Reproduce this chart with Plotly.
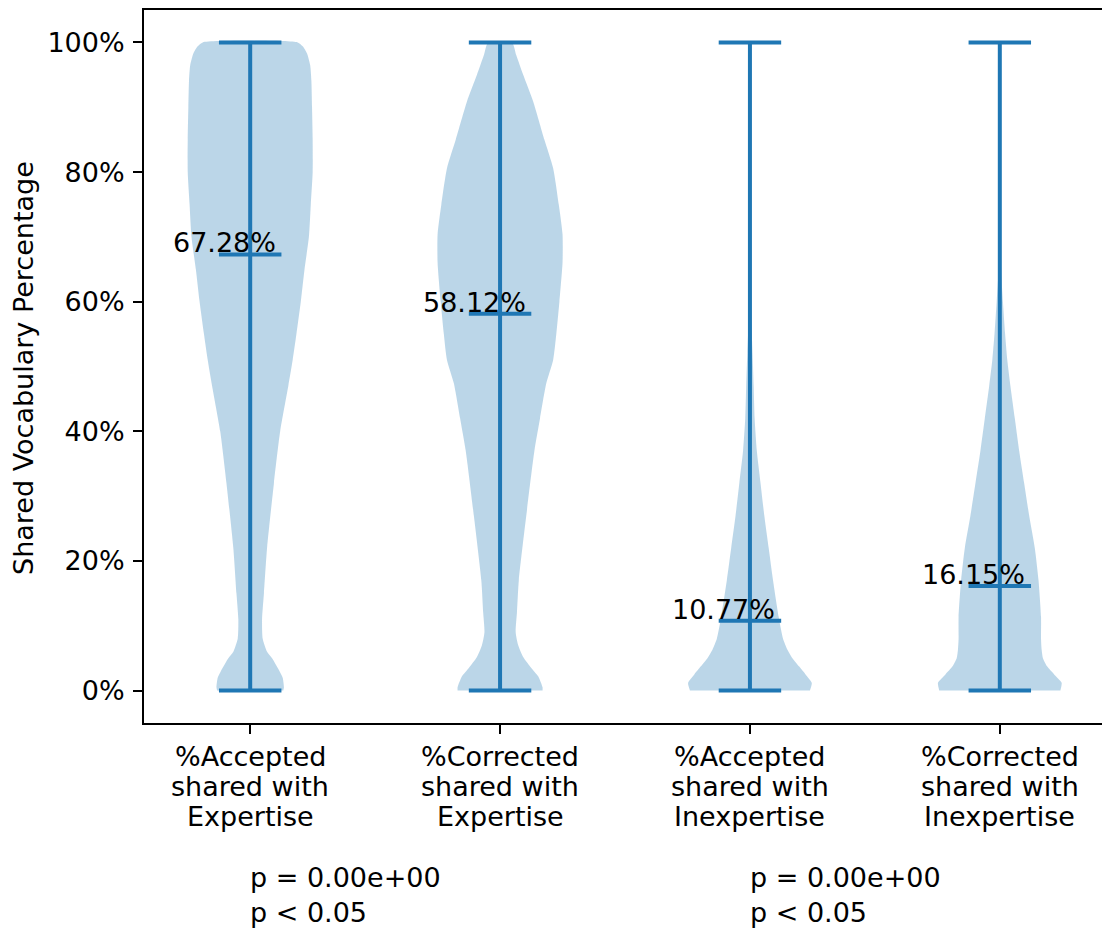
import plotly.graph_objects as go

# ---------------- data ----------------
tick_labels = [
    ["%Accepted", "shared with", "Expertise"],
    ["%Corrected", "shared with", "Expertise"],
    ["%Accepted", "shared with", "Inexpertise"],
    ["%Corrected", "shared with", "Inexpertise"],
]
positions = [1, 2, 3, 4]
medians = [67.28, 58.12, 10.77, 16.15]
mins = [0, 0, 0, 0]
maxs = [100, 100, 100, 100]

# violin outlines: level (%) and relative density (1 = widest)
v1_y = [0, 0.5, 2, 3, 5, 6, 8, 11, 15, 22, 32, 40, 47, 51, 55, 60, 65, 70, 75, 80, 85, 90, 94, 96.5, 98.3, 99.4, 100]
v1_w = [0.53, 0.54, 0.52, 0.47, 0.35, 0.27, 0.2, 0.19, 0.22, 0.27, 0.38, 0.48, 0.61, 0.68, 0.74, 0.81, 0.87, 0.94, 0.97, 1.0, 1.0, 0.99, 0.98, 0.96, 0.91, 0.84, 0.76]

v2_y = [0, 0.5, 2.2, 3.5, 5.2, 7, 9, 12, 17, 27, 37, 42, 47.4, 51, 55, 60, 66, 70.4, 75, 80.6, 85, 90.9, 95, 98, 100]
v2_w = [0.68, 0.68, 0.61, 0.50, 0.37, 0.29, 0.25, 0.27, 0.30, 0.42, 0.55, 0.64, 0.74, 0.85, 0.90, 0.95, 1.0, 1.0, 0.94, 0.85, 0.71, 0.53, 0.37, 0.26, 0.19]

v3_y = [0, 1.2, 2.5, 3.7, 5, 6.3, 8, 11.4, 17, 22, 27, 32, 37, 42, 47, 52, 56, 60, 70, 80, 100]
v3_w = [0.96, 0.99, 0.89, 0.79, 0.68, 0.60, 0.53, 0.46, 0.37, 0.30, 0.23, 0.17, 0.11, 0.075, 0.06, 0.042, 0.025, 0.008, 0.004, 0.003, 0.003]

v4_y = [0, 1.2, 2.5, 3.7, 5, 6.3, 8, 11.4, 17, 22, 27, 32, 37, 42, 47, 51, 55, 60, 64, 70, 80, 100]
v4_w = [0.97, 0.99, 0.87, 0.76, 0.69, 0.67, 0.66, 0.66, 0.62, 0.56, 0.47, 0.39, 0.31, 0.24, 0.17, 0.12, 0.085, 0.05, 0.025, 0.01, 0.005, 0.004]

violin_levels = [v1_y, v2_y, v3_y, v4_y]
violin_density = [v1_w, v2_w, v3_w, v4_w]

p_texts = ["p = 0.00e+00<br>p &lt; 0.05", "p = 0.00e+00<br>p &lt; 0.05"]
p_positions = [1, 3]

y_ticks = [0, 20, 40, 60, 80, 100]
y_tick_labels = ["0%", "20%", "40%", "60%", "80%", "100%"]

# ---------------- style ----------------
FONT = "DejaVu Sans"
FS = 27
BLUE = "#1f77b4"
FILL = "rgba(31,119,180,0.3)"
HALF = 0.25      # max half-width of a violin (widths=0.5)
CAP = 0.125      # half-length of cap/median lines
LINE_SHIFTS = [-33, -63, -93]   # px below the x axis for each tick-label line

fig = go.Figure()

for pos, ys, ws in zip(positions, violin_levels, violin_density):
    xr = [pos + HALF * w for w in ws]
    xl = [pos - HALF * w for w in ws]
    xs = xr + xl[::-1]
    yy = list(ys) + list(ys)[::-1]
    fig.add_trace(go.Scatter(
        x=xs, y=yy, mode="lines", fill="toself", fillcolor=FILL,
        line=dict(width=0, shape="spline", smoothing=0.6),
        hoverinfo="skip", showlegend=False))

lx, ly = [], []
for pos, lo, hi, md in zip(positions, mins, maxs, medians):
    lx += [pos, pos, None]
    ly += [lo, hi, None]
    for v in (lo, hi, md):
        lx += [pos - CAP, pos + CAP, None]
        ly += [v, v, None]
fig.add_trace(go.Scatter(x=lx, y=ly, mode="lines",
                         line=dict(color=BLUE, width=4),
                         hoverinfo="skip", showlegend=False))

annotations = []
for pos, md in zip(positions, medians):
    annotations.append(dict(
        x=pos + 0.11, y=md, xref="x", yref="y", text=f"{md:.2f}%",
        showarrow=False, xanchor="right", yanchor="bottom", yshift=-6,
        font=dict(family=FONT, size=FS, color="black")))

for pos, lines in zip(positions, tick_labels):
    for line, sh in zip(lines, LINE_SHIFTS):
        annotations.append(dict(
            x=pos, y=0, xref="x", yref="paper", text=line, showarrow=False,
            xanchor="center", yanchor="middle", yshift=sh,
            font=dict(family=FONT, size=FS, color="black")))

for pos, t in zip(p_positions, p_texts):
    annotations.append(dict(
        x=pos, y=-0.2406, xref="x", yref="paper", text=t, align="left",
        showarrow=False, xanchor="left", yanchor="middle", xshift=-2,
        font=dict(family=FONT, size=FS, color="black")))

annotations.append(dict(
    x=-0.1247, y=0.498, xref="paper", yref="paper",
    text="Shared Vocabulary Percentage", textangle=-90, showarrow=False,
    xanchor="center", yanchor="middle",
    font=dict(family=FONT, size=FS, color="black")))

fig.update_layout(
    width=1102, height=920,
    margin=dict(l=136, r=4, t=0, b=205, pad=0),
    paper_bgcolor="white", plot_bgcolor="white",
    font=dict(family=FONT, size=FS, color="black"),
    annotations=annotations,
    showlegend=False,
)
fig.update_xaxes(
    range=[0.575, 4.425], tickmode="array", tickvals=positions,
    ticktext=["" for _ in positions],
    showgrid=False, zeroline=False, showline=True, linecolor="black", linewidth=2,
    mirror=True, ticks="outside", ticklen=9, tickwidth=2, tickcolor="black",
)
fig.update_yaxes(
    range=[-5, 105], tickmode="array", tickvals=y_ticks, ticktext=y_tick_labels,
    showgrid=False, zeroline=False, showline=True, linecolor="black", linewidth=2,
    mirror=True, ticks="outside", ticklen=9, tickwidth=2, tickcolor="black",
    ticklabelstandoff=3,
)

fig.write_html("out.html")
